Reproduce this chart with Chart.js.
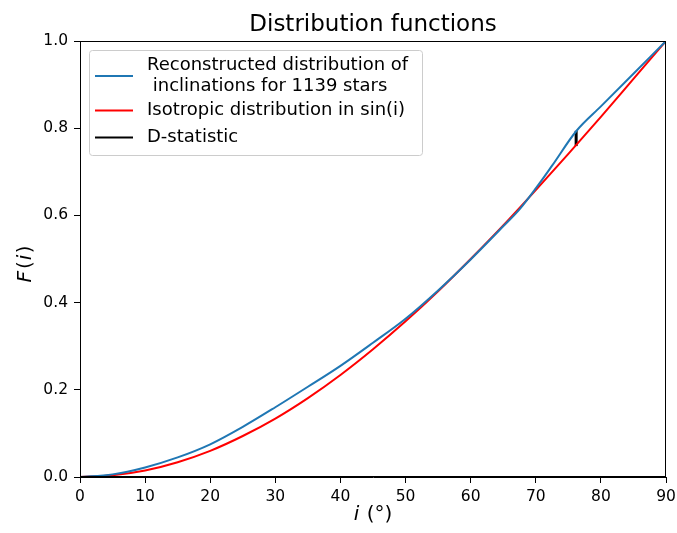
<!DOCTYPE html>
<html>
<head>
<meta charset="utf-8">
<script src="https://cdn.jsdelivr.net/npm/chart.js@4.4.1/dist/chart.umd.min.js"></script>
<style>
  html, body { margin: 0; padding: 0; background: #fff; }
  #wrap { width: 677px; height: 533px; }
</style>
</head>
<body>
<div id="wrap"><canvas id="distChart" width="677" height="533"></canvas></div>
<script>
// values
const recI = [0, 5, 10, 15, 20, 25, 30, 35, 40, 45, 50, 55, 60, 65, 67.5, 70, 72.5, 76.2, 80, 85, 90];
const recF = [0, 0.006, 0.022, 0.045, 0.075, 0.115, 0.160, 0.207, 0.255, 0.308, 0.363, 0.428, 0.499, 0.575, 0.614, 0.662, 0.714, 0.793, 0.850, 0.925, 1.0];

const isoI = [0, 5, 10, 15, 20, 25, 30, 35, 40, 45, 50, 55, 60, 65, 70, 75, 80, 85, 90];
const isoF = [0, 0.004, 0.015, 0.034, 0.060, 0.094, 0.134, 0.181, 0.234, 0.293, 0.357, 0.426, 0.500, 0.577, 0.658, 0.741, 0.826, 0.913, 1.0];

const dI = [76.2, 76.2];
const dF = [0.759, 0.794];

const xTicks = [0, 10, 20, 30, 40, 50, 60, 70, 80, 90];
const yTicks = [0.0, 0.2, 0.4, 0.6, 0.8, 1.0];

const FONT = "'DejaVu Sans', sans-serif";

function pts(xs, ys) { return xs.map((x, k) => ({ x: x, y: ys[k] })); }

// parts: [font, text, extra gap after]
function drawMixed(ctx, parts, cx, by) {
    let w = 0;
    parts.forEach(([f, t, g]) => { ctx.font = f; w += ctx.measureText(t).width + (g || 0); });
    let x = cx - w / 2;
    ctx.textAlign = "left";
    ctx.textBaseline = "alphabetic";
    ctx.fillStyle = "#000";
    parts.forEach(([f, t, g]) => { ctx.font = f; ctx.fillText(t, x, by); x += ctx.measureText(t).width + (g || 0); });
}

const frameAndText = {
    id: "frameAndText",
    afterDraw(chart) {
        const ctx = chart.ctx, a = chart.chartArea;
        ctx.save();
        ctx.strokeStyle = "#000";
        ctx.lineWidth = 1;
        ctx.strokeRect(a.left + 0.5, a.top + 0.5, a.right - a.left - 1, a.bottom - a.top - 1);

        // title
        ctx.fillStyle = "#000";
        ctx.textAlign = "center";
        ctx.textBaseline = "alphabetic";
        ctx.font = "23px " + FONT;
        ctx.fillText("Distribution functions", (a.left + a.right) / 2, 31);

        // x label
        const it = "italic 20px " + FONT, rm = "20px " + FONT;
        drawMixed(ctx, [[it, "i", 1], [rm, " (°)", 0]], (a.left + a.right) / 2, 520);

        // y label rotated
        ctx.save();
        ctx.translate(31, 264);
        ctx.rotate(-Math.PI / 2);
        drawMixed(ctx, [[it, "F", 2], [rm, "(", 1], [it, "i", 1.5], [rm, ")", 0]], 0, 0);
        ctx.restore();

        // legend
        const lx = 89, ly = 50, lw = 333, lh = 105;
        ctx.fillStyle = "rgba(255,255,255,0.8)";
        ctx.strokeStyle = "#cccccc";
        ctx.lineWidth = 1;
        ctx.beginPath();
        ctx.roundRect(lx + 0.5, ly + 0.5, lw, lh, 3);
        ctx.fill();
        ctx.stroke();
        const items = chart.data.datasets.map(d => ({ label: d.label, color: d.borderColor }));
        const rows = [[76, items[0]], [110.5, items[1]], [137.5, items[2]]];
        ctx.font = "18px " + FONT;
        ctx.textAlign = "left";
        ctx.textBaseline = "middle";
        rows.forEach(([y, item]) => {
            ctx.strokeStyle = item.color;
            ctx.lineWidth = 2;
            ctx.beginPath();
            ctx.moveTo(95, y);
            ctx.lineTo(133, y);
            ctx.stroke();
            ctx.fillStyle = "#000";
            const lines = Array.isArray(item.label) ? item.label : [item.label];
            const off = (lines.length - 1) * 10.5;
            lines.forEach((t, k) => ctx.fillText(t, 147, y - off + k * 21));
        });
        ctx.restore();
    }
};

new Chart(document.getElementById("distChart"), {
    type: "scatter",
    data: {
        datasets: [
            { label: ["Reconstructed distribution of", " inclinations for 1139 stars"], data: pts(recI, recF),
              borderColor: "#1f77b4", borderWidth: 2, showLine: true, pointRadius: 0, cubicInterpolationMode: "monotone" },
            { label: "Isotropic distribution in sin(i)", data: pts(isoI, isoF),
              borderColor: "#ff0000", borderWidth: 2, showLine: true, pointRadius: 0, cubicInterpolationMode: "monotone" },
            { label: "D-statistic", data: pts(dI, dF),
              borderColor: "#000000", borderWidth: 3, showLine: true, pointRadius: 0 }
        ]
    },
    options: {
        responsive: false,
        animation: false,
        layout: { padding: { top: 41, right: 11, left: 0, bottom: 0 } },
        plugins: { legend: { display: false }, title: { display: false }, tooltip: { enabled: false } },
        scales: {
            x: {
                type: "linear", min: 0, max: 90,
                afterFit: s => { s.height = 56; s.paddingLeft = 0; s.paddingRight = 0; },
                afterBuildTicks: s => { s.ticks = xTicks.map(v => ({ value: v })); },
                grid: { display: true, drawOnChartArea: false, drawTicks: true, tickLength: 6, color: "#000" },
                border: { display: true, color: "#000" },
                ticks: { color: "#000", font: { family: "DejaVu Sans", size: 15.5 }, padding: 5, maxRotation: 0 }
            },
            y: {
                type: "linear", min: 0, max: 1,
                afterFit: s => { s.width = 80; s.paddingTop = 0; s.paddingBottom = 0; },
                afterBuildTicks: s => { s.ticks = yTicks.map(v => ({ value: v })); },
                grid: { display: true, drawOnChartArea: false, drawTicks: true, tickLength: 6, color: "#000" },
                border: { display: true, color: "#000" },
                ticks: { color: "#000", font: { family: "DejaVu Sans", size: 15.5 }, padding: 6,
                         callback: v => v.toFixed(1) }
            }
        }
    },
    plugins: [frameAndText]
});
</script>
</body>
</html>
